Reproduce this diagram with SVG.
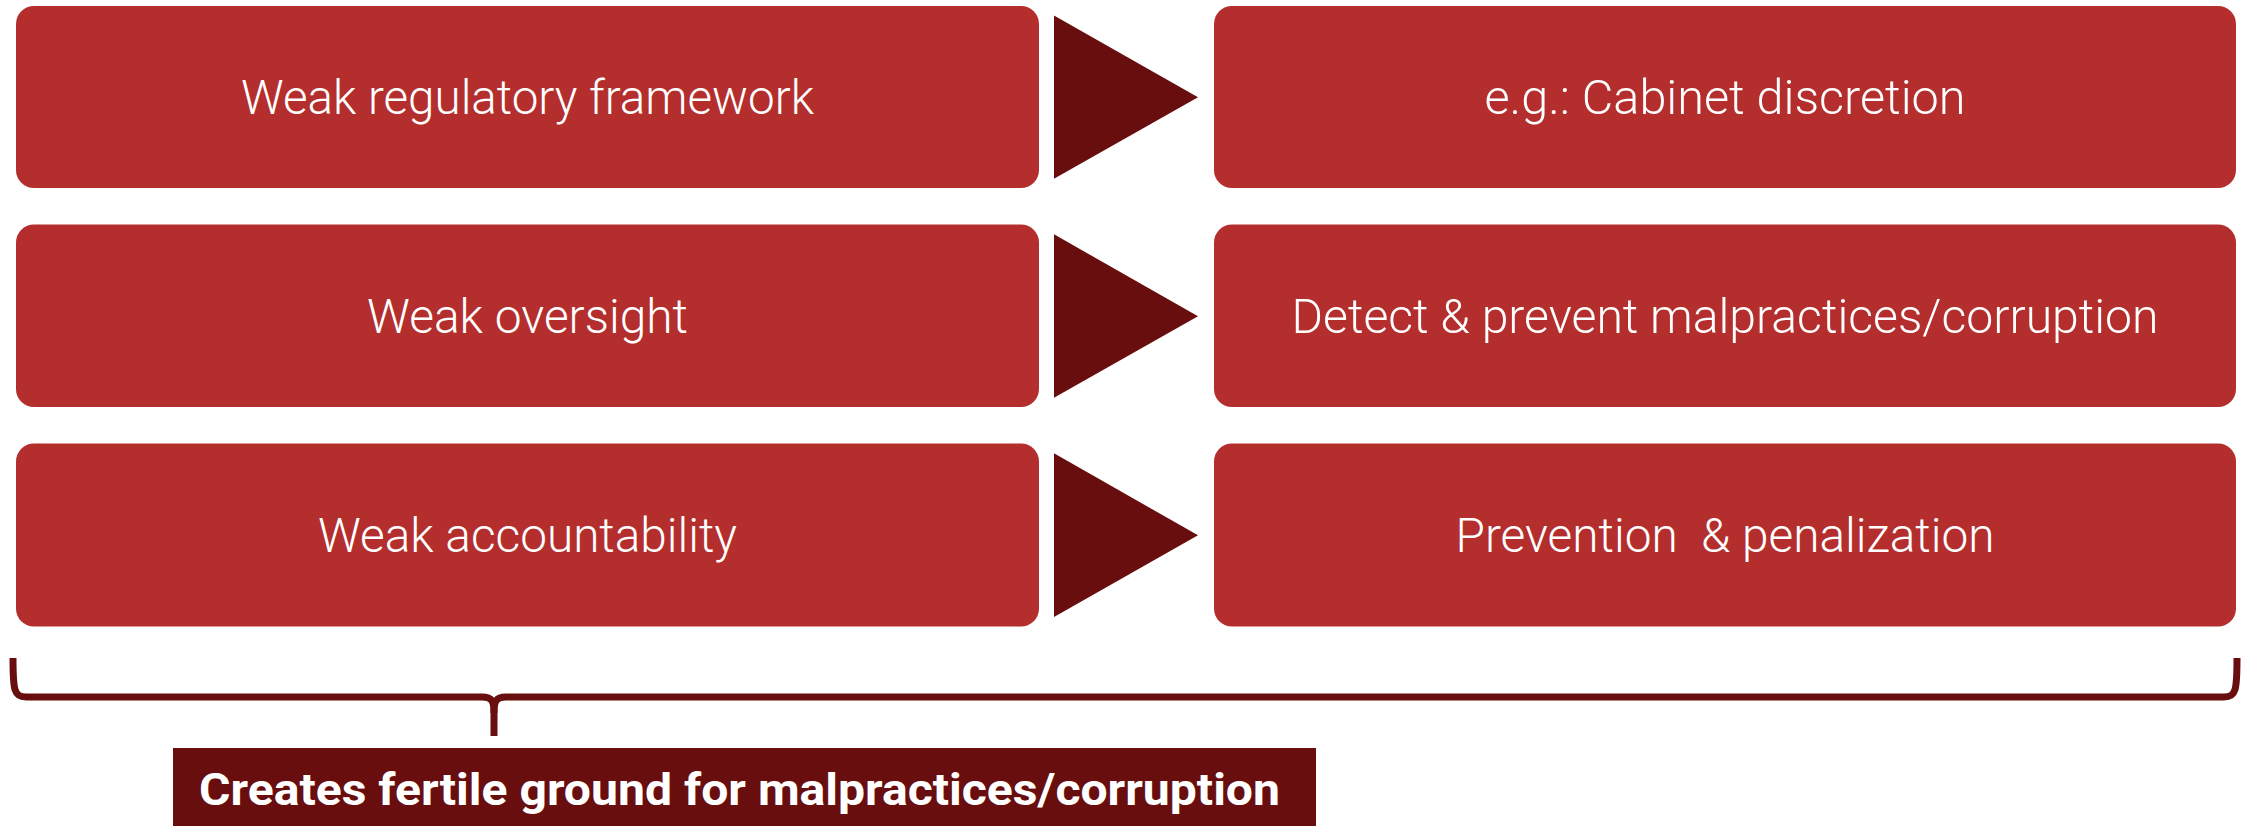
<svg xmlns="http://www.w3.org/2000/svg" width="2246" height="826" viewBox="0 0 2246 826">
<style>
.box{fill:#b32e2d;}
.tri{fill:#690e0f;}
.t{font-family:Roboto,"Liberation Sans",sans-serif;font-size:48px;fill:#ffffff;text-anchor:middle;font-weight:300;}
.brace{fill:none;stroke:#690e0f;stroke-width:7;}
.lbl{fill:#690e0f;}
.lt{font-family:Roboto,"Liberation Sans",sans-serif;font-size:45px;font-weight:700;fill:#ffffff;}
</style>
<rect width="2246" height="826" fill="#ffffff"/>
<g id="n1"><rect class="box" x="16" y="6" width="1023" height="182" rx="18"/><text class="t" x="527.5" y="114" textLength="573" lengthAdjust="spacingAndGlyphs">Weak regulatory framework</text></g>
<g id="n2"><rect class="box" x="1214" y="6" width="1022" height="182" rx="18"/><text class="t" x="1725" y="114" textLength="481" lengthAdjust="spacingAndGlyphs">e.g.: Cabinet discretion</text></g>
<g id="n3"><rect class="box" x="16" y="224.5" width="1023" height="182.5" rx="18"/><text class="t" x="527.5" y="333" textLength="321" lengthAdjust="spacingAndGlyphs">Weak oversight</text></g>
<g id="n4"><rect class="box" x="1214" y="224.5" width="1022" height="182.5" rx="18"/><text class="t" x="1725" y="333" textLength="867" lengthAdjust="spacingAndGlyphs">Detect &amp; prevent malpractices/corruption</text></g>
<g id="n5"><rect class="box" x="16" y="443.5" width="1023" height="183" rx="18"/><text class="t" x="527.5" y="552" textLength="419" lengthAdjust="spacingAndGlyphs">Weak accountability</text></g>
<g id="n6"><rect class="box" x="1214" y="443.5" width="1022" height="183" rx="18"/><text class="t" x="1725" y="552" textLength="539" lengthAdjust="spacingAndGlyphs" xml:space="preserve">Prevention  &amp; penalization</text></g>
<g id="connectors">
<polygon class="tri" points="1054,15.5 1198,97.3 1054,178.7"/>
<polygon class="tri" points="1054,234.3 1198,316.3 1054,397.7"/>
<polygon class="tri" points="1054,453.3 1198,535.3 1054,617"/>
<path class="brace" d="M13,658 C13,690 14,697 26,697 L482,697 C492,697 494,701 494,713 L494,736"/>
<path class="brace" d="M2237,658 C2237,690 2236,697 2224,697 L506,697 C496,697 494,701 494,713"/>
</g>
<g id="label"><rect class="lbl" x="173" y="748" width="1143" height="78"/><text class="lt" x="199" y="805" textLength="1081" lengthAdjust="spacingAndGlyphs">Creates fertile ground for malpractices/corruption</text></g>
</svg>
